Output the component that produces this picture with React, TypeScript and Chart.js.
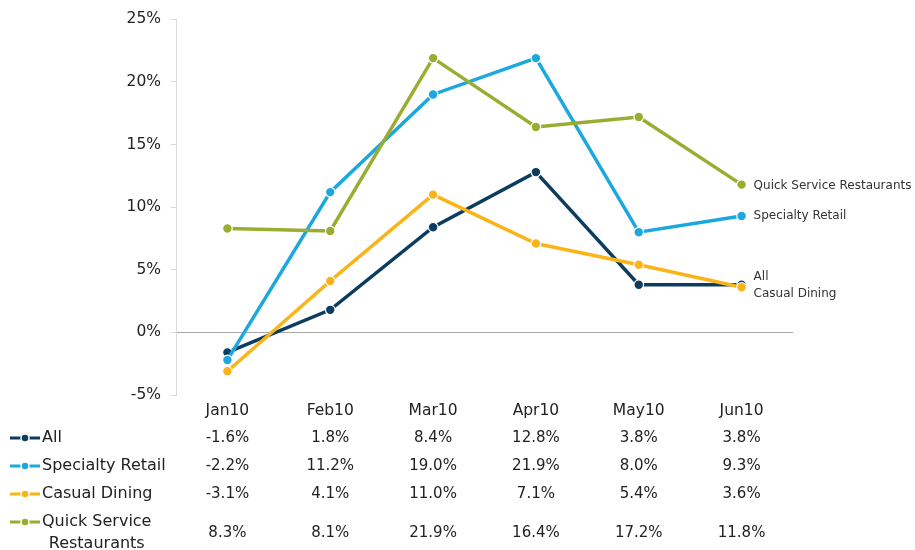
import React, { useEffect, useRef } from "react";
import { Chart, registerables } from "chart.js";

Chart.register(...registerables);

const categories = ["Jan10", "Feb10", "Mar10", "Apr10", "May10", "Jun10"];
const seriesNames = ["All", "Specialty Retail", "Casual Dining", "Quick Service Restaurants"];
const allValues = [-1.6, 1.8, 8.4, 12.8, 3.8, 3.8];
const specialtyValues = [-2.2, 11.2, 19.0, 21.9, 8.0, 9.3];
const casualValues = [-3.1, 4.1, 11.0, 7.1, 5.4, 3.6];
const qsrValues = [8.3, 8.1, 21.9, 16.4, 17.2, 11.8];
const tableLabels = [["All"], ["Specialty Retail"], ["Casual Dining"], ["Quick Service", "Restaurants"]];

const colors = ["#0c3c60", "#1aa8df", "#fbb417", "#9aad31"];
const FONT = "'DejaVu Sans', 'Noto Sans', sans-serif";

const overlayPlugin = {
  id: "overlay",
  afterDraw(chart: any) {
    const ctx = chart.ctx;
    const x = chart.scales.x;
    ctx.save();
    // end labels
    const endOffsets = [-8, 0, 7, 1];
    ctx.font = `12px ${FONT}`;
    ctx.fillStyle = "#333";
    ctx.textAlign = "left";
    ctx.textBaseline = "middle";
    chart.data.datasets.forEach((ds: any, i: number) => {
      const meta = chart.getDatasetMeta(i);
      const last = meta.data[meta.data.length - 1];
      ctx.fillText(ds.label, last.x + 12, last.y + endOffsets[i]);
    });
    // table header
    ctx.font = `15.5px ${FONT}`;
    ctx.fillStyle = "#222";
    ctx.textAlign = "center";
    const headerY = chart.chartArea.bottom + 16;
    categories.forEach((c, i) => {
      ctx.fillText(c, x.getPixelForValue(i), headerY);
    });
    const rowYs = [438, 466, 494, 533];
    const labelLines = [[438], [466], [494], [522, 544]];
    chart.data.datasets.forEach((ds: any, r: number) => {
      const y = rowYs[r];
      const my = labelLines[r][0];
      // marker
      ctx.strokeStyle = colors[r];
      ctx.lineWidth = 3;
      ctx.beginPath();
      ctx.moveTo(10, my);
      ctx.lineTo(40, my);
      ctx.stroke();
      ctx.beginPath();
      ctx.arc(25, my, 4, 0, Math.PI * 2);
      ctx.fillStyle = colors[r];
      ctx.fill();
      ctx.lineWidth = 1.5;
      ctx.strokeStyle = "#fff";
      ctx.stroke();
      // label
      ctx.fillStyle = "#222";
      ctx.font = `16px ${FONT}`;
      const lines = tableLabels[r];
      if (lines.length === 1) {
        ctx.textAlign = "left";
        ctx.fillText(lines[0], 42, my);
      } else {
        ctx.textAlign = "left";
        ctx.fillText(lines[0], 42, labelLines[r][0]);
        const w0 = ctx.measureText(lines[0]).width;
        ctx.textAlign = "center";
        ctx.fillText(lines[1], 42 + w0 / 2, labelLines[r][1]);
      }
      ctx.font = `15px ${FONT}`;
      ctx.textAlign = "center";
      ds.data.forEach((v: number, i: number) => {
        ctx.fillText(v.toFixed(1) + "%", x.getPixelForValue(i), y);
      });
    });
    ctx.restore();
  },
};

export default function App() {
  const ref = useRef<HTMLCanvasElement>(null);
  useEffect(() => {
    document.body.style.margin = "0";
    const values = [allValues, specialtyValues, casualValues, qsrValues];
    const chart = new Chart(ref.current!, {
      type: "line",
      data: {
        labels: categories,
        datasets: values.map((v, i) => ({
          label: seriesNames[i],
          data: v,
          borderColor: colors[i],
          backgroundColor: colors[i],
          borderWidth: 3.5,
          pointRadius: 4.8,
          pointBorderColor: "#fff",
          pointBorderWidth: 1.2,
          pointBackgroundColor: colors[i],
          tension: 0,
          order: 4 - i,
        })),
      },
      options: {
        animation: false,
        responsive: false,
        layout: { padding: { left: 0, top: 17, right: 122, bottom: 155 } },
        plugins: { legend: { display: false }, tooltip: { enabled: false } },
        scales: {
          x: { type: "category", display: false, offset: true },
          y: {
            min: -5,
            max: 25,
            afterFit: (s: any) => {
              s.width = 176;
            },
            ticks: {
              stepSize: 5,
              callback: (v: any) => v + "%",
              font: { family: FONT, size: 15.5 },
              color: "#222",
              padding: 10,
            },
            border: { display: true, color: "#d9d9d9", width: 1 },
            grid: {
              color: (c: any) => (c.tick && c.tick.value === 0 ? "#a8a8a8" : "rgba(0,0,0,0)"),
              tickColor: "#d9d9d9",
              tickLength: 5,
              lineWidth: 1,
            },
          },
        },
      },
      plugins: [overlayPlugin],
    });
    return () => chart.destroy();
  }, []);
  return (
    <div style={{ width: 915, height: 550 }}>
      <canvas ref={ref} width={915} height={550} />
    </div>
  );
}
